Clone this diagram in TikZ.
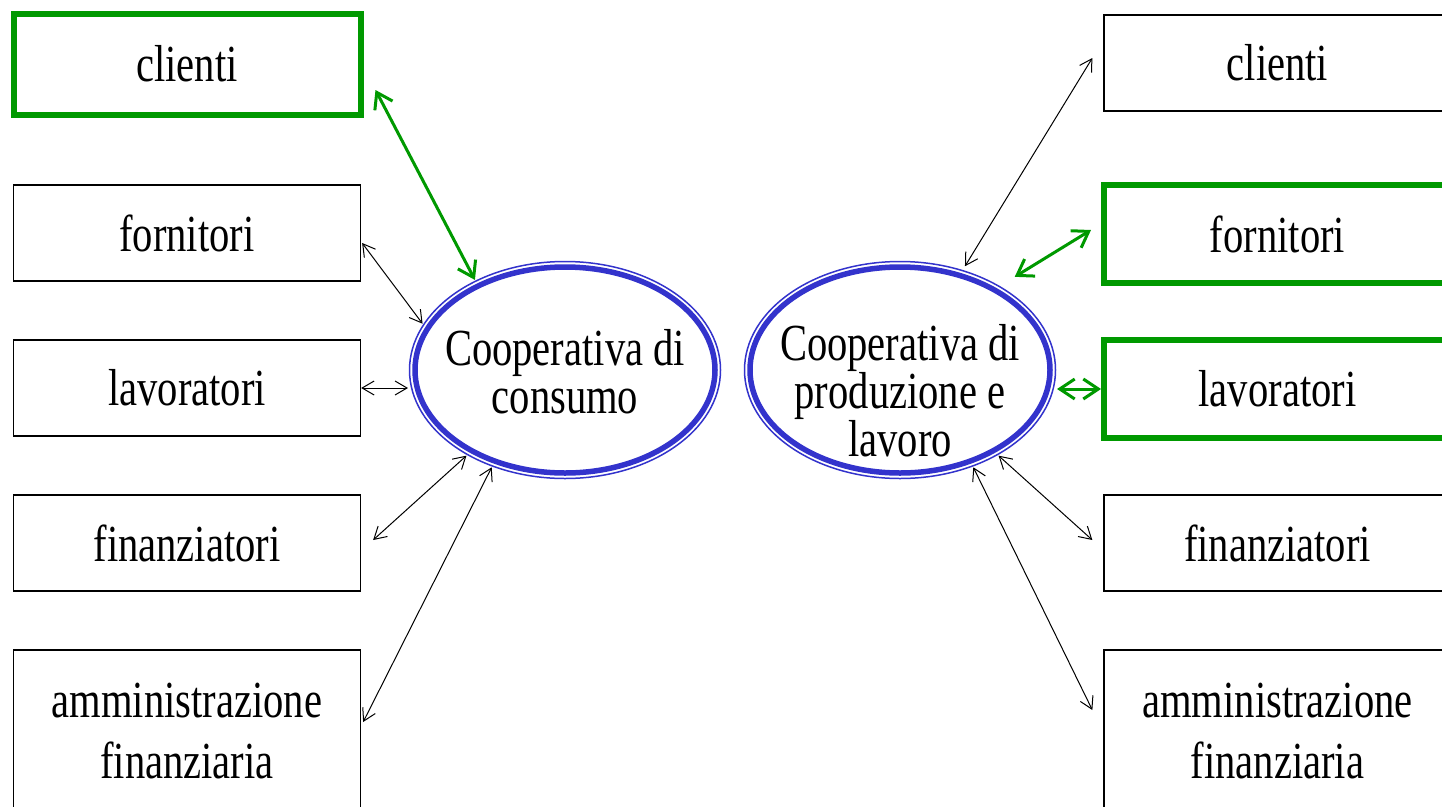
\documentclass[tikz,border=0pt]{standalone}
\usepackage{fontspec}
\setmainfont{Liberation Serif}[FakeStretch=0.78]
\usetikzlibrary{arrows.meta,shapes.geometric,calc}
\definecolor{cgreen}{RGB}{0,153,0}
\definecolor{cblue}{RGB}{51,51,204}
\begin{document}
\begin{tikzpicture}[x=1pt,y=-1pt,
 txt/.style={font=\fontsize{52}{48}\selectfont},
 box/.style={draw=black, line width=1.3pt, rectangle, minimum width=347pt, inner sep=0pt, align=center, font=\fontsize{52}{61}\selectfont},
 gbox/.style={box, draw=cgreen, line width=6pt},
 blk/.style={draw=black, line width=1pt, {Straight Barb[length=12pt,width=14pt]}-{Straight Barb[length=12pt,width=14pt]}},
 grn/.style={draw=cgreen, line width=3pt, {Straight Barb[length=15pt,width=20pt]}-{Straight Barb[length=15pt,width=20pt]}},
 ell/.style={ellipse, draw=cblue, line width=5.5pt, minimum width=300pt, minimum height=206pt, inner sep=0pt, outer sep=7pt},
 thinell/.style={draw=cblue, line width=1.5pt}]
\useasboundingbox (0,0) rectangle (1442,806);
\fill[white] (0,0) rectangle (1442,806);

% left boxes
\node[gbox, minimum height=101pt] (lc) at (187,64) {clienti};
\node[box, minimum height=96pt] (lf) at (187,233) {fornitori};
\node[box, minimum height=96pt] (ll) at (187,388) {lavoratori};
\node[box, minimum height=96pt] (lfi) at (187,543) {finanziatori};
\node[box, minimum height=162pt] (la) at (187,731) {amministrazione\\finanziaria};

% right boxes
\node[box, minimum height=96pt] (rc) at (1277.5,63) {clienti};
\node[gbox, minimum height=98.5pt] (rf) at (1277.5,234) {fornitori};
\node[gbox, minimum height=98.5pt] (rl) at (1277.5,389) {lavoratori};
\node[box, minimum height=96pt] (rfi) at (1277.5,543) {finanziatori};
\node[box, minimum height=162pt] (ra) at (1277.5,731) {amministrazione\\finanziaria};

% ellipses
\node[ell] (le) at (565,370) {};
\draw[thinell] (le.center) ellipse [x radius=155.5pt, y radius=108.5pt];
\node[txt, align=center, inner sep=0pt] (lt) at (565,372) {Cooperativa di\\consumo};

\node[ell] (re) at (900,370) {};
\draw[thinell] (re.center) ellipse [x radius=155.5pt, y radius=108.5pt];
\node[txt, align=center, inner sep=0pt] (rt) at (900,391) {Cooperativa di\\produzione e\\lavoro};

% left connectors
\draw[grn] ($(lc.east)+(12,26)$) -- (le.135);
\draw[blk] ($(lf.east)+(1,10)$) -- (le.162);
\draw[blk] (ll.east) -- (ll.east -| le.west);
\draw[blk] ($(lfi.east)+(12,-3)$) -- (le.221);
\draw[blk] ($(la.east)+(2,-9)$) -- (le.233);

% right connectors
\draw[blk] ($(rc.west)+(-11,-5)$) -- ($(re.58)+(2,-3)$);
\draw[grn] ($(rf.west)+(-10,-4)$) -- ($(re.39)+(12,-10)$);
\draw[grn] (rl.west) -- (rl.west -| re.east);
\draw[blk] ($(rfi.west)+(-11,-3)$) -- (re.-41);
\draw[blk] ($(ra.west)+(-11,-21)$) -- (re.-53);
\end{tikzpicture}
\end{document}
